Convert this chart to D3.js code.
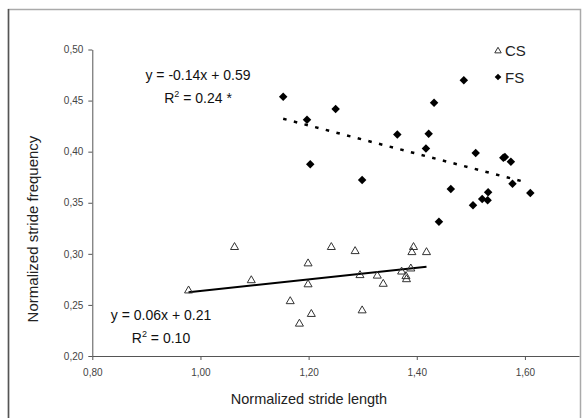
<!DOCTYPE html>
<html>
<head>
<meta charset="utf-8">
<script src="https://cdn.jsdelivr.net/npm/d3@7"></script>
<style>
  body { margin: 0; background: #fff; }
  svg { display: block; font-family: 'Liberation Sans', Arial, sans-serif; }
</style>
</head>
<body>
<div id="chart"></div>
<script>
// values
const xTicks = [0.80, 1.00, 1.20, 1.40, 1.60];
const yTicks = [0.20, 0.25, 0.30, 0.35, 0.40, 0.45, 0.50];

const csX = [0.978, 1.063, 1.094, 1.166, 1.183, 1.199, 1.199, 1.205, 1.242, 1.286, 1.295,
  1.299, 1.327, 1.338, 1.372, 1.380, 1.381, 1.389, 1.391, 1.394, 1.418];
const csY = [0.264, 0.3065, 0.274, 0.2535, 0.2315, 0.2905, 0.270, 0.241, 0.3065, 0.3025, 0.279,
  0.2445, 0.2785, 0.2705, 0.2825, 0.278, 0.275, 0.2855, 0.3015, 0.3065, 0.3015];

const fsX = [1.153, 1.197, 1.203, 1.250, 1.299, 1.364, 1.417, 1.422, 1.432, 1.441, 1.463,
  1.487, 1.504, 1.509, 1.521, 1.531, 1.532, 1.560, 1.563, 1.574, 1.577, 1.610];
const fsY = [0.4537, 0.4313, 0.3876, 0.4417, 0.3723, 0.4169, 0.4032, 0.4176, 0.4479, 0.3313, 0.3635,
  0.4700, 0.3475, 0.3987, 0.3537, 0.3524, 0.3602, 0.3941, 0.3948, 0.3902, 0.3687, 0.3596];

// trend line end points
const csTrendX = [0.978, 1.418];
const csTrendY = [0.2625, 0.2873];
const fsTrendX = [1.153, 1.600];
const fsTrendY = [0.4322, 0.3703];

const W = 582, H = 418;

const svg = d3.select('#chart')
  .append('svg')
  .attr('width', W)
  .attr('height', H);

// frame round the picture
svg.append('rect')
  .attr('x', 8.5).attr('y', 9.5)
  .attr('width', 572).attr('height', 420)
  .attr('fill', 'none')
  .attr('stroke', '#aaa')
  .attr('stroke-width', 1.5);
svg.append('line')
  .attr('x1', 8.5).attr('x2', 8.5)
  .attr('y1', 9).attr('y2', H)
  .attr('stroke', '#555')
  .attr('stroke-width', 1.5);

const x = d3.scaleLinear().domain([0.80, 1.70]).range([92.3, 579]);
const y = d3.scaleLinear().domain([0.20, 0.50]).range([356, 49.5]);

const fmt = d => d3.format('.2f')(d).replace('.', ',');

const gx = svg.append('g')
  .attr('transform', `translate(0,${y(0.20)})`)
  .call(d3.axisBottom(x).tickValues(xTicks).tickFormat(fmt)
    .tickSize(4).tickSizeOuter(0).tickPadding(9));

const gy = svg.append('g')
  .attr('transform', `translate(${x(0.80)},0)`)
  .call(d3.axisLeft(y).tickValues(yTicks).tickFormat(fmt)
    .tickSize(4).tickSizeOuter(0).tickPadding(5));

[gx, gy].forEach(g => {
  g.select('.domain').attr('stroke', '#555');
  g.selectAll('.tick line').attr('stroke', '#555');
  g.selectAll('.tick text')
    .attr('font-size', 10)
    .attr('font-family', "'Liberation Sans', Arial, sans-serif")
    .attr('fill', '#444');
});

// axis titles
svg.append('text')
  .attr('x', 309).attr('y', 404)
  .attr('text-anchor', 'middle')
  .attr('font-size', 14.5)
  .attr('fill', '#222')
  .text('Normalized stride length');

svg.append('text')
  .attr('transform', 'translate(38,229) rotate(-90)')
  .attr('text-anchor', 'middle')
  .attr('font-size', 15)
  .attr('fill', '#222')
  .text('Normalized stride frequency');

// trend lines
const line = d3.line().x(d => x(d[0])).y(d => y(d[1]));

svg.append('path')
  .attr('d', line(d3.zip(csTrendX, csTrendY)))
  .attr('fill', 'none')
  .attr('stroke', '#000')
  .attr('stroke-width', 2);

svg.append('path')
  .attr('d', line(d3.zip(fsTrendX, fsTrendY)))
  .attr('fill', 'none')
  .attr('stroke', '#000')
  .attr('stroke-width', 2.5)
  .attr('stroke-dasharray', '3.5,7.5');

// markers
const tri = d3.symbol().type(d3.symbolTriangle).size(28);
const dia = d3.symbol().type(d3.symbolSquare).size(36);

svg.append('g')
  .selectAll('path')
  .data(d3.zip(csX, csY))
  .join('path')
  .attr('d', tri)
  .attr('transform', d => `translate(${x(d[0])},${y(d[1])})`)
  .attr('fill', 'none')
  .attr('stroke', '#333')
  .attr('stroke-width', 1);

svg.append('g')
  .selectAll('path')
  .data(d3.zip(fsX, fsY))
  .join('path')
  .attr('d', dia)
  .attr('transform', d => `translate(${x(d[0])},${y(d[1])}) rotate(45)`)
  .attr('fill', '#000');

// equations
function equation(cx, by, eq, r2) {
  svg.append('text')
    .attr('x', cx).attr('y', by)
    .attr('text-anchor', 'middle')
    .attr('font-size', 14)
    .attr('fill', '#111')
    .text(eq);
  const t = svg.append('text')
    .attr('x', cx).attr('y', by + 23)
    .attr('text-anchor', 'middle')
    .attr('font-size', 14)
    .attr('fill', '#111');
  t.append('tspan').text('R');
  t.append('tspan').attr('font-size', 9).attr('dy', -6).text('2');
  t.append('tspan').attr('dy', 6).text(' = ' + r2);
}
equation(198, 80, 'y = -0.14x + 0.59', '0.24 *');
equation(161, 320, 'y = 0.06x + 0.21', '0.10');

// legend
const legend = svg.append('g').attr('font-size', 15).attr('fill', '#222');
legend.append('path')
  .attr('d', d3.symbol().type(d3.symbolTriangle).size(18))
  .attr('transform', 'translate(498,51)')
  .attr('fill', 'none')
  .attr('stroke', '#333');
legend.append('text').attr('x', 505).attr('y', 56).text('CS');
legend.append('path')
  .attr('d', d3.symbol().type(d3.symbolSquare).size(22))
  .attr('transform', 'translate(498,77) rotate(45)')
  .attr('fill', '#000');
legend.append('text').attr('x', 505).attr('y', 82.5).text('FS');
</script>
</body>
</html>
